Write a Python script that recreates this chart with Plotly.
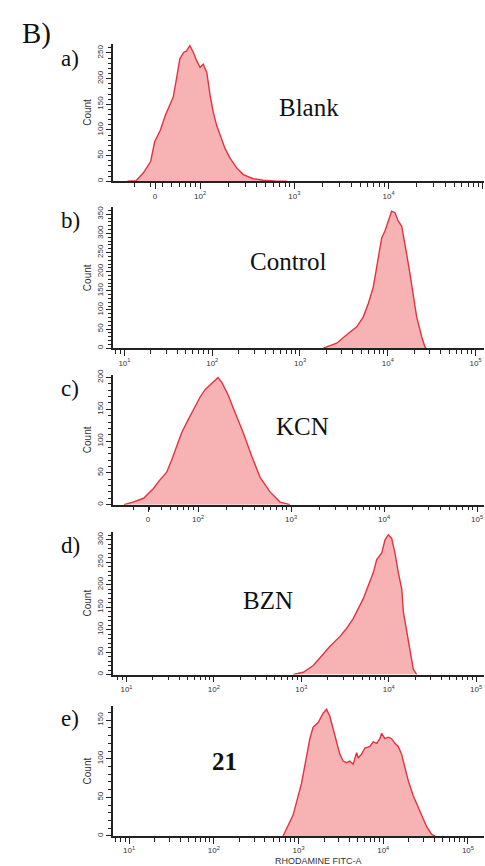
import plotly.graph_objects as go

W, H = 485, 866

# ---------------- data (fluorescence intensity vs. cell count) ----------------
blank_x = [17, 21, 25, 30, 33, 38, 43, 48, 52, 57, 61, 67, 72, 78, 85, 92, 100, 108, 118, 128,
           138, 150, 163, 184, 208, 245, 288, 367, 469, 650, 830]
blank_y = [0, 1, 16, 39, 77, 100, 129, 148, 164, 206, 238, 251, 254, 264, 251, 235, 222, 228, 212, 167,
           135, 109, 90, 64, 45, 26, 13, 5, 2, 0, 0]

control_x = [1842, 2618, 3404, 4426, 5260, 6000, 6839, 7480, 8150, 8530, 9290, 10140, 11060, 12070,
             13180, 14390, 15030, 16410, 17900, 19500, 21330, 24320, 26530, 27500]
control_y = [0, 13, 35, 56, 82, 117, 160, 212, 263, 289, 306, 332, 358, 354,
             332, 319, 298, 246, 194, 134, 82, 30, 3, 0]

kcn_x = [16, 20, 26, 33, 39, 46, 52, 59, 67, 78, 91, 105, 119, 135, 149, 164, 181, 210, 250, 305,
         381, 465, 595, 762, 976]
kcn_y = [0, 4, 10, 25, 39, 51, 70, 93, 114, 133, 153, 169, 181, 189, 195, 200, 192, 173, 145, 114,
         75, 43, 20, 4, 0]

bzn_x = [810, 1054, 1372, 1786, 2130, 2773, 3306, 3933, 4488, 5118, 5842, 6664, 7290, 8320, 9072,
         9895, 10810, 11790, 12880, 14090, 14690, 16060, 17530, 19110, 20900]
bzn_y = [0, 5, 20, 45, 63, 85, 103, 125, 147, 169, 198, 227, 256, 271, 300,
         311, 303, 271, 227, 191, 140, 96, 45, 12, 0]

c21_x = [658, 863, 1085, 1244, 1361, 1489, 1707, 1955, 2143, 2344, 2566, 2812, 3075, 3366, 3690,
         4035, 4417, 4849, 5061, 5555, 6081, 6966, 7621, 8360, 9144, 9575, 10470, 11460, 12560,
         13740, 15040, 16480, 18030, 19720, 22630, 27170, 32590, 37340, 40810]
c21_y = [0, 27, 68, 101, 126, 141, 147, 159, 164, 155, 139, 122, 106, 97, 95,
         97, 93, 108, 101, 106, 114, 116, 122, 120, 126, 133, 126, 128, 126,
         120, 116, 106, 89, 72, 52, 31, 12, 2, 0]

panel_letters = ["a)", "b)", "c)", "d)", "e)"]
sample_names = ["Blank", "Control", "KCN", "BZN", "<b>21</b>"]

# tick labels
log_ticks_text = ["10<sup>1</sup>", "10<sup>2</sup>", "10<sup>3</sup>", "10<sup>4</sup>", "10<sup>5</sup>"]
bi_ticks_text = ["0", "10<sup>2</sup>", "10<sup>3</sup>", "10<sup>4</sup>", "10<sup>5</sup>"]
y_max_ticks = [250, 350, 200, 300, 150]

# ---------------- layout geometry ----------------
def ydom(top_px, bot_px):
    return [1 - bot_px / H, 1 - top_px / H]

panels = [
    dict(x=blank_x, y=blank_y, dom=ydom(38, 176.7), xr=[1.077, 5.012], yr=[0, 268],
         tv=[33.3, 1e2, 1e3, 1e4, 1e5], tt=bi_ticks_text, lab_y=53, name_xy=(309, 102)),
    dict(x=control_x, y=control_y, dom=ydom(203, 345), xr=[0.870, 5.096], yr=[0, 368],
         tv=[1e1, 1e2, 1e3, 1e4, 1e5], tt=log_ticks_text, lab_y=216, name_xy=(288, 258)),
    dict(x=kcn_x, y=kcn_y, dom=ydom(372, 502.7), xr=[1.086, 5.075], yr=[0, 204],
         tv=[29, 1e2, 1e3, 1e4, 1e5], tt=bi_ticks_text, lab_y=386, name_xy=(302, 424)),
    dict(x=bzn_x, y=bzn_y, dom=ydom(530, 674), xr=[0.846, 5.090], yr=[0, 318],
         tv=[1e1, 1e2, 1e3, 1e4, 1e5], tt=log_ticks_text, lab_y=544, name_xy=(268, 599)),
    dict(x=c21_x, y=c21_y, dom=ydom(706, 836.7), xr=[0.810, 5.190], yr=[0, 168],
         tv=[1e1, 1e2, 1e3, 1e4, 1e5], tt=log_ticks_text, lab_y=718, name_xy=(224, 762)),
]

FILL = "rgba(247,178,180,1)"
LINE = "rgb(226,52,64)"
AX = "#222"
TICKFONT = dict(family="Liberation Sans, Arial", size=8, color="#333")

fig = go.Figure()
layout = dict(
    width=W, height=H, margin=dict(l=0, r=0, t=0, b=0),
    paper_bgcolor="white", plot_bgcolor="white", showlegend=False,
)
annotations = []

for i, p in enumerate(panels):
    n = "" if i == 0 else str(i + 1)
    fig.add_trace(go.Scatter(
        x=p["x"], y=p["y"], mode="lines", fill="tozeroy",
        fillcolor=FILL, line=dict(color=LINE, width=1.4),
        xaxis="x" + n, yaxis="y" + n, hoverinfo="skip",
    ))
    layout["xaxis" + n] = dict(
        type="log", domain=[113 / W, 484 / W], range=p["xr"], anchor="y" + n,
        showgrid=False, zeroline=False, showline=True, linecolor=AX, linewidth=1.6,
        ticks="outside", ticklen=6, tickwidth=1.4, tickcolor=AX,
        tickmode="array", tickvals=p["tv"], ticktext=p["tt"], tickfont=TICKFONT,
        minor=dict(dtick="D1", ticks="outside", ticklen=4,
                   tickwidth=1.2, tickcolor=AX, showgrid=False),
    )
    layout["yaxis" + n] = dict(
        domain=p["dom"], range=p["yr"], anchor="x" + n,
        showgrid=False, zeroline=False, showline=True, linecolor=AX, linewidth=1.6,
        ticks="outside", ticklen=5, tickwidth=1.3, tickcolor=AX,
        tickmode="array", tickvals=list(range(0, y_max_ticks[i] + 1, 50)),
        tickangle=-90, tickfont=TICKFONT,
        minor=dict(dtick=10, tick0=0, ticks="outside", ticklen=3, tickwidth=1.1,
                   tickcolor=AX, showgrid=False),
        title=dict(text="Count", font=dict(family="Liberation Sans, Arial", size=10, color="#333"),
                   standoff=2),
    )
    annotations.append(dict(
        text=panel_letters[i], xref="paper", yref="paper", x=70 / W, y=1 - p["lab_y"] / H,
        xanchor="center", yanchor="middle", showarrow=False,
        font=dict(family="Liberation Serif, Times New Roman", size=23, color="#111"),
    ))
    annotations.append(dict(
        text=sample_names[i], xref="paper", yref="paper",
        x=p["name_xy"][0] / W, y=1 - p["name_xy"][1] / H,
        xanchor="center", yanchor="middle", showarrow=False,
        font=dict(family="Liberation Serif, Times New Roman", size=25, color="#111"),
    ))

annotations.append(dict(
    text="B)", xref="paper", yref="paper", x=36 / W, y=1 - 28 / H,
    xanchor="center", yanchor="middle", showarrow=False,
    font=dict(family="Liberation Serif, Times New Roman", size=29, color="#111"),
))
annotations.append(dict(
    text="RHODAMINE FITC-A", xref="paper", yref="paper", x=318 / W, y=1 - 855 / H,
    xanchor="center", yanchor="top", showarrow=False,
    font=dict(family="Liberation Sans, Arial", size=9, color="#333"),
))

layout["annotations"] = annotations
fig.update_layout(**layout)
fig.write_html("out.html")
